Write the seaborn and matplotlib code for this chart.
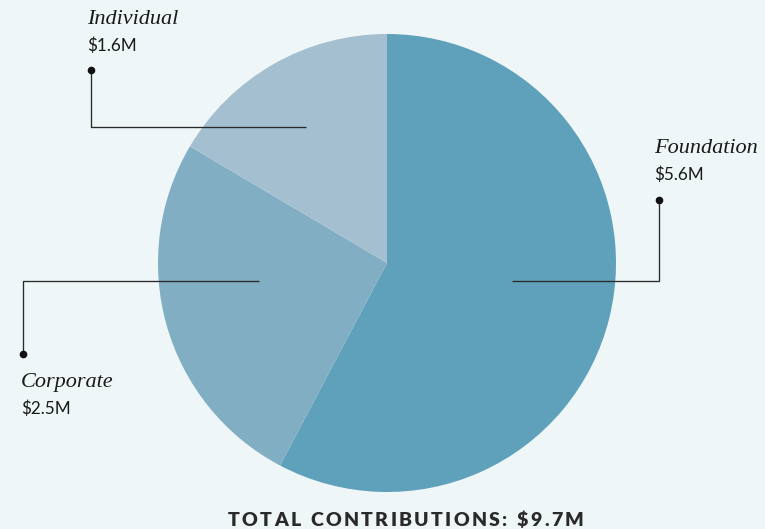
import matplotlib
matplotlib.use("Agg")
import matplotlib.pyplot as plt
import seaborn as sns

categories = ["Foundation", "Corporate", "Individual"]
values = [5.6, 2.5, 1.6]
value_labels = ["$5.6M", "$2.5M", "$1.6M"]
total_label = "TOTAL CONTRIBUTIONS: $9.7M"

colors = ["#5fa1bb", "#82aec3", "#a3bfd0"]
bg = "#eff6f8"

sns.set_theme(style="white")
plt.rcParams["font.family"] = ["Lato", "DejaVu Sans"]

W, H = 765, 529
fig = plt.figure(figsize=(W / 100, H / 100), dpi=100, facecolor=bg)
ax = fig.add_axes([0, 0, 1, 1])
ax.set_facecolor(bg)

def Y(py):
    return H - py

ax.pie(values, colors=colors, startangle=90, counterclock=False,
       center=(387, Y(263)), radius=229, frame=True,
       wedgeprops=dict(linewidth=0))
ax.set_xlim(0, W)
ax.set_ylim(0, H)
ax.set_aspect("equal")
ax.axis("off")

line_kw = dict(color="#2a2a2a", lw=0.95, solid_capstyle="butt", zorder=5)
dot_kw = dict(color="#111111", markersize=4.5, zorder=6)

# Individual
ax.plot([91, 91, 306], [Y(70), Y(127), Y(127)], **line_kw)
ax.plot([91], [Y(70)], "o", **dot_kw)
# Foundation
ax.plot([659, 659, 512], [Y(200), Y(281), Y(281)], **line_kw)
ax.plot([659], [Y(200)], "o", **dot_kw)
# Corporate
ax.plot([259, 23, 23], [Y(281), Y(281), Y(354)], **line_kw)
ax.plot([23], [Y(354)], "o", **dot_kw)

serif = dict(family=["Liberation Serif", "DejaVu Serif"], style="italic",
             fontsize=16, color="#1a1a1a", va="baseline", ha="left")
sans = dict(fontsize=12.3, color="#1a1a1a", va="baseline", ha="left")

label_pos = {
    "Foundation": (654, 153, 180),
    "Corporate": (21, 387, 414),
    "Individual": (87, 24, 51),
}
for cat, lab in zip(categories, value_labels):
    x, y1, y2 = label_pos[cat]
    ax.text(x, Y(y1), cat, **serif)
    ax.text(x, Y(y2), lab, **sans)

# letter-spaced total label, placed character by character
renderer = fig.canvas.get_renderer()
tkw = dict(fontsize=14, fontweight="heavy", color="#2a2a2a", va="baseline", ha="left")
widths = []
for ch in total_label:
    if ch == " ":
        t = ax.text(0, 0, "a", **tkw)
        w = t.get_window_extent(renderer).width * 0.55
    else:
        t = ax.text(0, 0, ch, **tkw)
        w = t.get_window_extent(renderer).width
    t.remove()
    widths.append(w)
x0, x1 = 228, 583
extra = ((x1 - x0) - sum(widths)) / (len(total_label) - 1)
x = x0
for ch, w in zip(total_label, widths):
    if ch != " ":
        ax.text(x, Y(526), ch, **tkw)
    x += w + extra

fig.savefig("out.png", dpi=100, facecolor=bg)
